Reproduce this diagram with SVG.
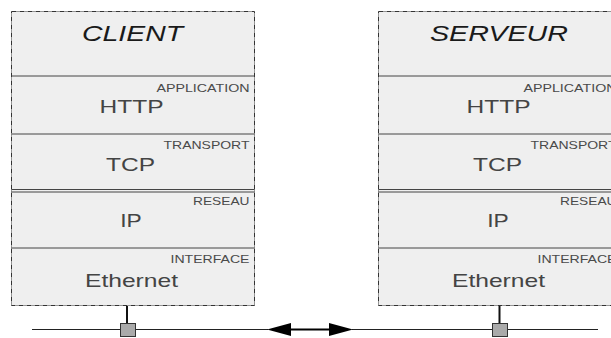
<svg xmlns="http://www.w3.org/2000/svg" width="611" height="338" viewBox="0 0 611 338">
  <style>
    .frame { fill: #efefef; stroke: #333; stroke-width: 1; stroke-dasharray: 5 1 1 1; }
    .sep { stroke: #444; stroke-width: 1; fill: none; }
    .title { font-family: "Liberation Sans", Arial, sans-serif; font-style: italic; font-size: 22px; fill: #1a1a1a; text-anchor: middle; }
    .proto { font-family: "Liberation Sans", Arial, sans-serif; font-size: 19px; fill: #444; text-anchor: middle; }
    .layer { font-family: "Liberation Sans", Arial, sans-serif; font-size: 10.5px; fill: #4a4a4a; text-anchor: end; }
    .wire { stroke: #222; stroke-width: 1; fill: none; }
    .stem { stroke: #111; stroke-width: 2; fill: none; }
    .tap { fill: #aaa; stroke: #333; stroke-width: 1; }
  </style>
  <defs>
    <g id="stack">
      <rect class="frame" x="11.5" y="11.5" width="243" height="294"/>
      <line class="sep" x1="11.5" y1="76" x2="254.5" y2="76"/>
      <line class="sep" x1="11.5" y1="134" x2="254.5" y2="134"/>
      <line class="sep" x1="11.5" y1="189.5" x2="254.5" y2="189.5"/>
      <line class="sep" x1="11.5" y1="192" x2="254.5" y2="192"/>
      <line class="sep" x1="11.5" y1="248" x2="254.5" y2="248"/>
      <text class="layer" x="249.5" y="92" textLength="93" lengthAdjust="spacingAndGlyphs">APPLICATION</text>
      <text class="proto" x="131.5" y="113" textLength="64" lengthAdjust="spacingAndGlyphs">HTTP</text>
      <text class="layer" x="249.5" y="148.5" textLength="86" lengthAdjust="spacingAndGlyphs">TRANSPORT</text>
      <text class="proto" x="130.5" y="171" textLength="49" lengthAdjust="spacingAndGlyphs">TCP</text>
      <text class="layer" x="249.5" y="205" textLength="56.5" lengthAdjust="spacingAndGlyphs">RESEAU</text>
      <text class="proto" x="131" y="226.5" textLength="21.5" lengthAdjust="spacingAndGlyphs">IP</text>
      <text class="layer" x="249.5" y="263" textLength="79" lengthAdjust="spacingAndGlyphs">INTERFACE</text>
      <text class="proto" x="131.5" y="286.5" textLength="93" lengthAdjust="spacingAndGlyphs">Ethernet</text>
    </g>
  </defs>

  <g id="client">
    <use href="#stack"/>
    <text class="title" x="132.5" y="41" textLength="101" lengthAdjust="spacingAndGlyphs">CLIENT</text>
    <line class="stem" x1="127" y1="306" x2="127" y2="324"/>
    <rect class="tap" x="120.5" y="323.5" width="15" height="13"/>
  </g>

  <g id="serveur">
    <use href="#stack" transform="translate(367 0)"/>
    <text class="title" x="499" y="41" textLength="138" lengthAdjust="spacingAndGlyphs">SERVEUR</text>
    <line class="stem" x1="499.5" y1="306" x2="499.5" y2="324"/>
    <rect class="tap" x="492.5" y="323.5" width="15" height="13"/>
  </g>

  <g id="connectors">
    <line class="wire" x1="32" y1="329.5" x2="120" y2="329.5"/>
    <line class="wire" x1="136" y1="329.5" x2="268" y2="329.5"/>
    <line class="wire" x1="352" y1="329.5" x2="492" y2="329.5"/>
    <line class="wire" x1="508" y1="329.5" x2="598" y2="329.5"/>
    <line x1="285" y1="329.5" x2="336" y2="329.5" stroke="#000" stroke-width="2.2"/>
    <polygon points="267,329.5 291,323 291,336" fill="#000"/>
    <polygon points="353,329.5 329,323 329,336" fill="#000"/>
  </g>
</svg>
